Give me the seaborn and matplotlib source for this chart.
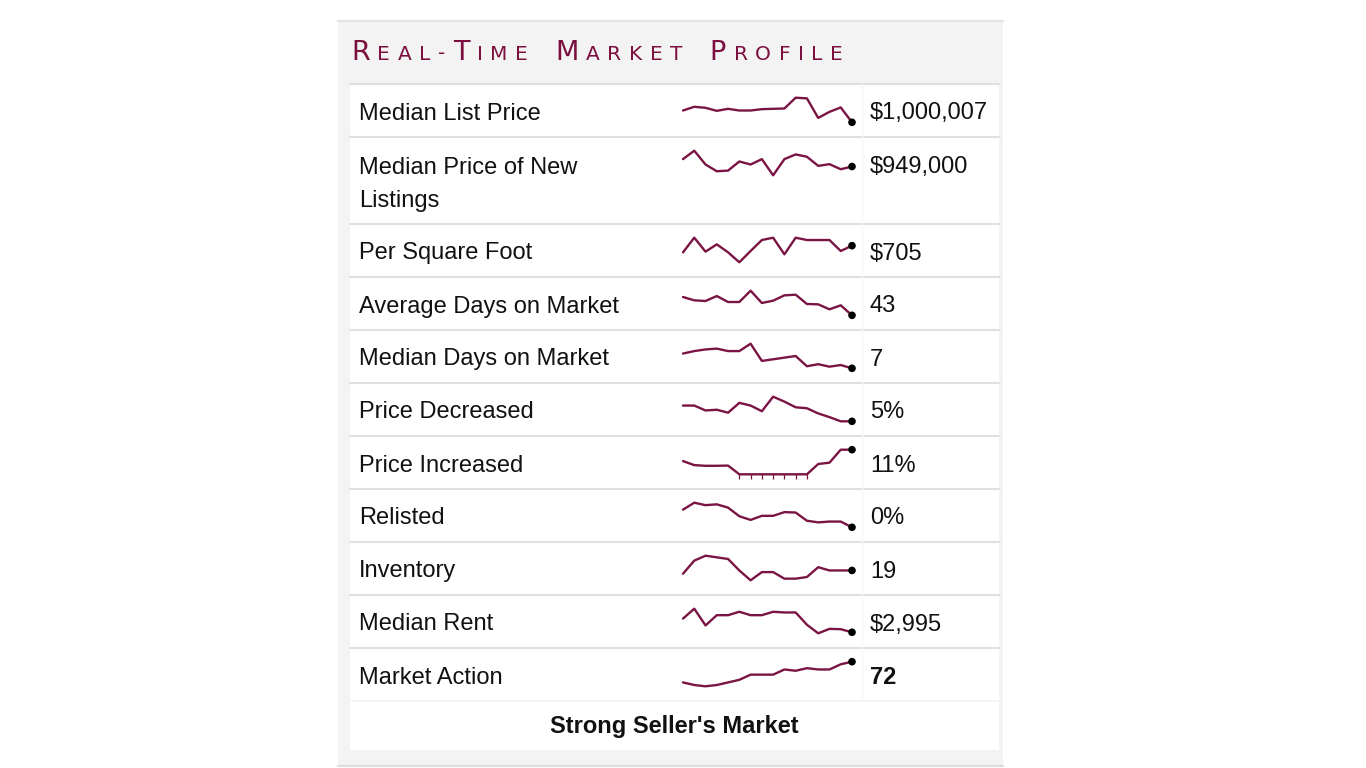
import numpy as np
import pandas as pd
import matplotlib
matplotlib.use("Agg")
import matplotlib.pyplot as plt
import seaborn as sns
from matplotlib.patches import Rectangle

# ---------------- data ----------------
title = "Real-Time Market Profile"
row_labels = ["Median List Price", "Median Price of New\nListings", "Per Square Foot",
              "Average Days on Market", "Median Days on Market", "Price Decreased",
              "Price Increased", "Relisted", "Inventory", "Median Rent", "Market Action"]
value_labels = ["$1,000,007", "$949,000", "$705", "43", "7", "5%", "11%", "0%",
                "19", "$2,995", "72"]
verdict = "Strong Seller's Market"

median_list_price = [1070000, 1092000, 1086000, 1068000, 1080000, 1070000, 1070000, 1078000,
                     1080000, 1082000, 1146000, 1142000, 1026000, 1062000, 1088000, 1000007]
median_price_new = [993000, 1043000, 961000, 921000, 925000, 979000, 961000, 993000,
                    897000, 993000, 1021000, 1007000, 953000, 963000, 933000, 949000]
per_square_foot = [685, 729, 687, 709, 685, 655, 689, 722, 729, 679, 729, 722, 722, 722, 689, 705]
avg_days_on_market = [54, 52, 51.6, 54.6, 51, 51, 57.8, 50.4, 51.8, 55, 55.4, 49.8, 49.6, 46.6, 49, 43]
median_days_on_market = [10.6, 11.2, 11.6, 11.8, 11.2, 11.2, 13, 8.8, 9.2, 9.6, 10, 7.5, 8, 7.4, 7.8, 7]
price_decreased = [11.4, 11.4, 9.4, 9.7, 8.5, 12.5, 11.4, 9.1, 15, 13, 10.7, 10.3, 8.2, 6.7, 5, 5]
price_increased = [5.9, 4.1, 3.8, 3.8, 3.9, 0, 0, 0, 0, 0, 0, 0, 4.6, 5.2, 11, 11]
relisted = [2.15, 3, 2.7, 2.8, 2.4, 1.35, 0.9, 1.4, 1.4, 1.85, 1.8, 0.8, 0.6, 0.7, 0.7, 0]
inventory = [17, 25, 28, 27, 26, 19, 13, 18, 18, 14, 14, 15, 21, 19, 19, 19]
median_rent = [3195, 3340, 3095, 3245, 3245, 3295, 3245, 3245, 3295, 3285, 3285, 3105,
               2980, 3045, 3040, 2995]
market_action = [56, 54, 53, 54, 56, 58, 62, 62, 62, 66, 65, 67, 66, 66, 70, 72]

series = [median_list_price, median_price_new, per_square_foot, avg_days_on_market,
          median_days_on_market, price_decreased, price_increased, relisted,
          inventory, median_rent, market_action]

# ---------------- style ----------------
sns.set_theme(style="white")
plt.rcParams['font.family'] = ['Liberation Sans', 'DejaVu Sans']

W, H = 1366, 768
MAROON = '#7a1444'
TITLE_C = '#7b1040'
CARD = '#f3f3f3'
SEP = '#e0e0e0'
TXT = '#111111'

fig = plt.figure(figsize=(W / 100, H / 100), dpi=100)
fig.patch.set_facecolor('white')
ax = fig.add_axes([0, 0, 1, 1])
ax.set_xlim(0, W)
ax.set_ylim(H, 0)
ax.axis('off')

# card
ax.add_patch(Rectangle((338, 20), 665, 746, facecolor=CARD, edgecolor='none', zorder=0))
ax.plot([338, 1003], [20.5, 20.5], color='#e3e3e3', lw=1.6, zorder=1)
ax.plot([338, 1003], [765.5, 765.5], color='#dcdcdc', lw=1.6, zorder=1)

table_top, table_bottom = 84, 750
ax.add_patch(Rectangle((350, table_top), 649, table_bottom - table_top,
                       facecolor='white', edgecolor='none', zorder=1))

# title in small caps, spread across the heading width
renderer = fig.canvas.get_renderer()
big_pt, small_pt = 19.5, 14.5
t_objs, widths = [], []
for ch in title:
    if ch == ' ':
        widths.append(12)
        t_objs.append(None)
        continue
    sz = big_pt if ch.isupper() else small_pt
    t = ax.text(0, 59.5, ch.upper(), fontsize=sz, color=TITLE_C, family='DejaVu Sans',
                va='baseline', ha='left', zorder=3)
    widths.append(t.get_window_extent(renderer).width)
    t_objs.append(t)
x0, x1 = 351, 843
track = (x1 - x0 - sum(widths)) / (len(widths) - 1)
x = x0
for t, w in zip(t_objs, widths):
    if t is not None:
        t.set_x(x)
    x += w + track

# rows
line_h = 34
tops = []
y = table_top
for lab in row_labels:
    tops.append(y)
    y += 53 + line_h * lab.count('\n')
verdict_top = y

for i, (lab, val, vals) in enumerate(zip(row_labels, value_labels, series)):
    t = tops[i]
    extra = lab.count('\n')
    ax.plot([350, 999], [t, t], color=SEP, lw=1.5, zorder=2)
    ax.text(359, t + 35.5 + line_h * extra, lab, fontsize=17, color=TXT, va='baseline',
            ha='left', linespacing=1.64, zorder=3)
    ax.text(870, t + 35.5, val, fontsize=17, color=TXT, va='baseline', ha='left',
            fontweight='bold' if i == len(row_labels) - 1 else 'normal', zorder=3)

    # sparkline
    sa = fig.add_axes([683 / W, 1 - (t + 38.3) / H, 169 / W, 24.6 / H])
    sa.set_facecolor('none')
    df = pd.DataFrame({'period': np.arange(len(vals)), 'value': vals})
    sns.lineplot(data=df, x='period', y='value', ax=sa, color=MAROON, linewidth=1.7)
    zeros = df[(df['value'] == 0) & (df['period'] < len(vals) - 1)]
    if len(zeros):
        sa.plot(zeros['period'], zeros['value'], linestyle='none', marker=3, ms=3.5,
                mew=0.9, color=MAROON)
    last = df.iloc[[-1]]
    sns.scatterplot(data=last, x='period', y='value', ax=sa, color='black', s=30,
                    edgecolor='none', zorder=5)
    sa.set_xlim(0, len(vals) - 1)
    sa.set_ylim(min(vals), max(vals))
    sa.axis('off')
    for art in sa.lines + sa.collections:
        art.set_clip_on(False)

# faint column divider
ax.plot([862, 862], [table_top, verdict_top], color='#f5f5f5', lw=1, zorder=2)

ax.plot([350, 999], [verdict_top, verdict_top], color='#f4f4f4', lw=1.2, zorder=2)
ax.text(674, verdict_top + 31.5, verdict, fontsize=17, fontweight='bold', color=TXT,
        ha='center', va='baseline', zorder=3)

fig.savefig('out.png', dpi=100, facecolor='white')
